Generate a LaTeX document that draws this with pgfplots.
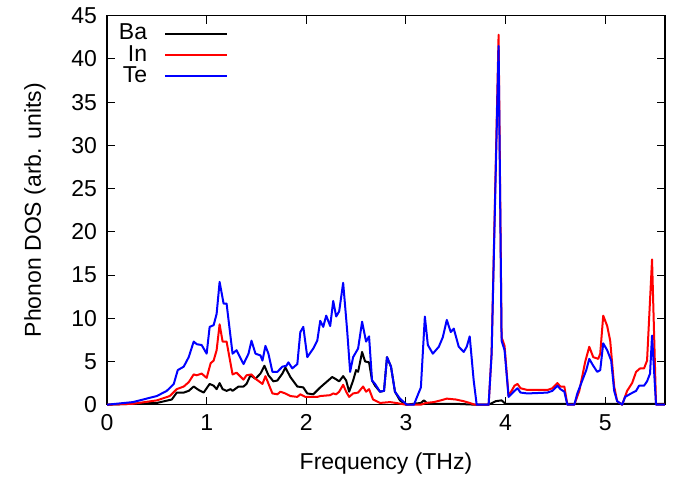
\documentclass[border=0pt]{standalone}
\usepackage{fontspec}
\setmainfont{Liberation Sans}
\usepackage{pgfplots}
\pgfplotsset{compat=1.18}
\begin{document}
\fontsize{11.5}{13.5}\selectfont
\begin{tikzpicture}
\begin{axis}[
  scale only axis,
  width=279pt, height=194.5pt,
  xmin=0, xmax=5.6, ymin=0, ymax=45,
  xtick={0,1,2,3,4,5}, ytick={0,5,...,45},
  tick align=inside,
  tick pos=both,
  xticklabel pos=bottom, yticklabel pos=left,
  major tick length=4pt,
  axis line style={line width=0.6pt},
  tick style={line width=0.5pt, black},
  /pgf/number format/assume math mode=true,
  ticklabel style={font=\fontsize{11.5}{13.5}\selectfont},
  xticklabel style={yshift=-1pt},
  yticklabel style={xshift=-1pt},
  xlabel={Frequency (THz)}, ylabel={Phonon DOS (arb. units)},
  label style={font=\fontsize{11.5}{13.5}\selectfont},
  xlabel style={yshift=-3pt},
  ylabel style={yshift=5pt},
  clip=false,
  legend style={draw=none, fill=none, at={(rel axis cs:0.01,0.995)}, anchor=north west,
    font=\fontsize{11.5}{13.5}\selectfont, row sep=-3pt, inner sep=1pt},
  legend cell align=right,
  legend plot pos=right,
  legend image code/.code={\path[draw=none,fill=none] (0pt,0pt) -- (1pt,0pt); \draw[#1] (7pt,0pt) -- (38pt,0pt);},
  every axis plot/.append style={line width=1pt, line join=round},
]
\addplot[black, mark=none] coordinates {
(0,0) (0.5,0.2) (0.65,0.6) (0.7,1.4) (0.77,1.4) (0.82,1.6) (0.87,2.1) (0.92,1.7) (0.97,1.4) (1.03,2.4) (1.07,2.2) (1.1,1.8) (1.13,2.5) (1.16,1.8) (1.2,1.6) (1.24,1.8) (1.26,1.6) (1.32,2.1) (1.37,2.1) (1.4,2.4) (1.44,3.4) (1.49,3.0) (1.54,3.6) (1.58,4.5) (1.62,3.4) (1.67,2.7) (1.71,2.8) (1.76,3.6) (1.79,4.3) (1.84,3.2) (1.91,2.1) (1.97,2.0) (2.01,1.3) (2.07,1.2) (2.14,2.0) (2.21,2.7) (2.26,3.2) (2.29,3.0) (2.33,2.7) (2.37,3.3) (2.4,2.8) (2.43,1.5) (2.47,2.8) (2.5,4.0) (2.52,3.8) (2.56,6.1) (2.59,5.0) (2.63,4.9) (2.66,2.8) (2.69,2.2) (2.74,1.5) (2.78,1.6) (2.81,5.5) (2.85,4.4) (2.89,1.5) (2.94,0.5) (3.0,0) (3.15,0.2) (3.18,0.5) (3.22,0.1) (3.5,0.1) (3.7,0) (3.83,0) (3.9,0.4) (3.96,0.5) (4.0,0.1) (5.6,0.1)
};
\addlegendentry{Ba}
\addplot[red, mark=none] coordinates {
(0,0) (0.26,0.1) (0.5,0.5) (0.63,1.0) (0.7,1.8) (0.77,2.1) (0.82,2.6) (0.87,3.5) (0.9,3.4) (0.95,3.6) (1.0,3.1) (1.04,4.8) (1.07,5.1) (1.1,6.3) (1.13,9.3) (1.16,7.3) (1.2,7.3) (1.26,3.5) (1.3,3.7) (1.37,2.9) (1.4,3.4) (1.45,3.5) (1.49,3.0) (1.56,2.4) (1.59,3.3) (1.66,1.3) (1.71,1.2) (1.74,1.5) (1.79,1.3) (1.84,1.0) (1.91,0.9) (1.94,1.2) (1.99,0.9) (2.11,0.9) (2.14,1.0) (2.24,1.1) (2.27,1.3) (2.3,1.2) (2.33,1.5) (2.37,2.3) (2.4,1.5) (2.43,0.9) (2.47,1.3) (2.52,1.4) (2.57,2.1) (2.6,1.5) (2.63,1.8) (2.67,0.6) (2.74,0.2) (2.84,0.3) (2.9,0.2) (3.0,0) (3.15,0) (3.2,0.2) (3.28,0.3) (3.35,0.5) (3.41,0.7) (3.5,0.6) (3.58,0.4) (3.64,0.2) (3.69,0) (3.83,0) (3.86,6.0) (3.93,42.8) (3.96,7.8) (3.99,6.8) (4.03,1.0) (4.09,2.2) (4.12,2.4) (4.15,1.9) (4.22,1.7) (4.42,1.7) (4.47,1.9) (4.52,2.5) (4.55,2.1) (4.59,2.1) (4.62,0) (4.69,0) (4.74,1.6) (4.8,5.0) (4.84,6.7) (4.88,5.5) (4.93,5.3) (4.95,5.9) (4.98,10.3) (5.02,9.1) (5.05,7.4) (5.09,2.1) (5.12,0.4) (5.17,0) (5.22,1.6) (5.27,2.5) (5.31,3.8) (5.35,4.2) (5.39,4.2) (5.42,5.1) (5.47,16.8) (5.51,0) (5.6,0)
};
\addlegendentry{In}
\addplot[blue, mark=none] coordinates {
(0,0) (0.26,0.3) (0.5,1.0) (0.6,1.6) (0.67,2.4) (0.71,4.0) (0.77,4.4) (0.82,5.5) (0.87,7.3) (0.9,7.0) (0.95,6.9) (1.0,5.9) (1.03,9.0) (1.07,9.2) (1.1,10.5) (1.13,14.2) (1.17,11.7) (1.2,11.7) (1.26,5.9) (1.3,6.3) (1.37,4.7) (1.42,5.9) (1.45,7.4) (1.49,5.9) (1.54,5.7) (1.56,5.1) (1.59,6.8) (1.62,5.9) (1.66,3.8) (1.71,3.8) (1.76,4.4) (1.8,4.5) (1.82,4.9) (1.86,4.2) (1.91,4.7) (1.94,8.4) (1.97,9.0) (2.01,5.5) (2.07,6.5) (2.11,7.4) (2.14,9.7) (2.17,9.0) (2.2,10.3) (2.24,9.1) (2.27,12.0) (2.3,10.2) (2.33,10.8) (2.37,14.1) (2.41,8.6) (2.44,3.8) (2.47,5.5) (2.52,6.5) (2.56,9.6) (2.6,7.3) (2.63,7.9) (2.66,2.8) (2.69,2.4) (2.74,1.5) (2.78,1.6) (2.81,5.5) (2.85,4.4) (2.89,1.5) (2.94,0.7) (3.01,0) (3.08,0) (3.15,2.0) (3.19,10.2) (3.22,6.9) (3.27,5.9) (3.33,6.7) (3.37,7.8) (3.41,9.8) (3.45,8.4) (3.48,8.8) (3.53,6.7) (3.58,6.1) (3.61,6.7) (3.64,7.9) (3.68,2.8) (3.71,0) (3.83,0) (3.86,5.9) (3.93,41.5) (3.96,7.4) (3.99,6.3) (4.03,0.9) (4.09,1.6) (4.12,1.9) (4.15,1.4) (4.22,1.3) (4.42,1.4) (4.47,1.6) (4.52,2.2) (4.55,1.8) (4.59,1.5) (4.62,0) (4.69,0) (4.72,1.3) (4.77,2.8) (4.81,4.0) (4.84,5.3) (4.88,4.5) (4.92,3.8) (4.95,4.0) (4.98,7.1) (5.02,6.3) (5.06,5.1) (5.09,1.6) (5.12,0.4) (5.17,0) (5.2,0.9) (5.26,1.3) (5.31,1.6) (5.34,2.2) (5.39,2.2) (5.42,2.7) (5.45,3.6) (5.47,8.0) (5.51,0) (5.6,0)
};
\addlegendentry{Te}
\path (rel axis cs:-0.1918,-0.1954) rectangle (rel axis cs:1.0251,1.0308);
\end{axis}
\end{tikzpicture}
\end{document}
